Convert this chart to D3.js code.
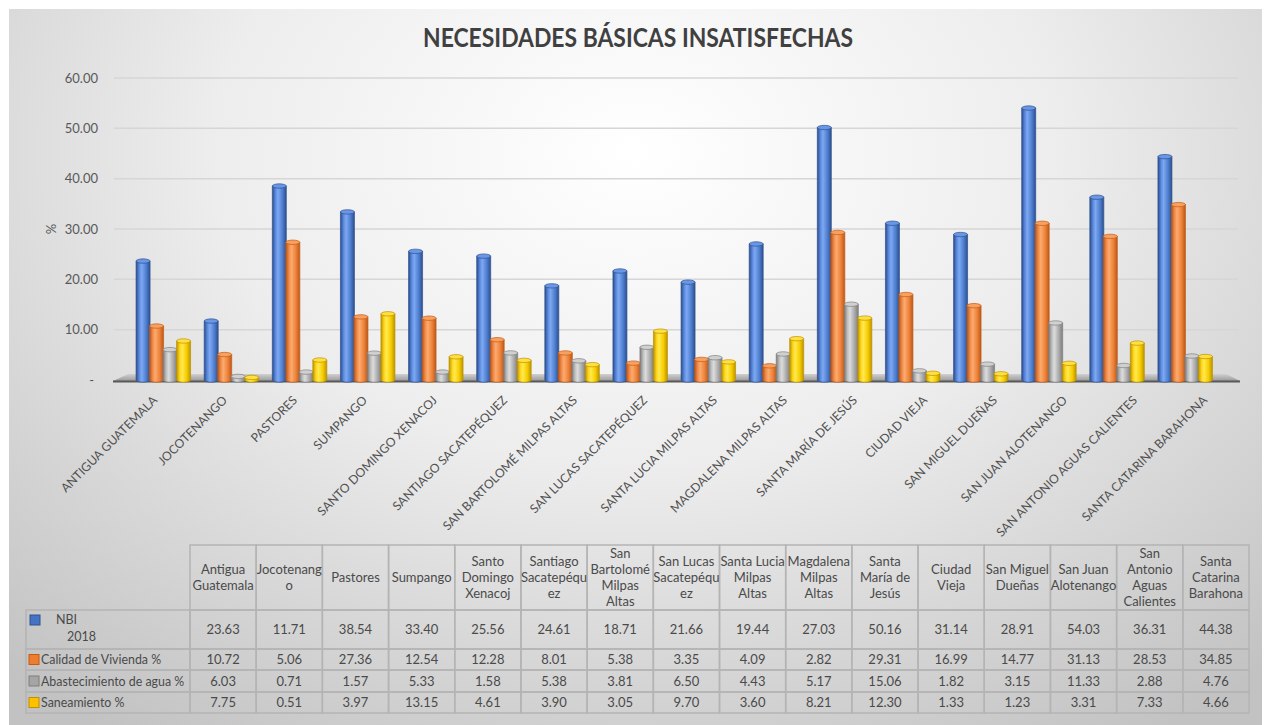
<!DOCTYPE html>
<html lang="es">
<head>
<meta charset="UTF-8">
<title>Necesidades Básicas Insatisfechas</title>
<script src="https://d3js.org/d3.v7.min.js"></script>
<style>
  body { margin: 0; background: #fff; }
  text { font-family: Lato, "Open Sans", sans-serif; }
</style>
</head>
<body>
<script>
// ---- data ----
var municipios = ["Antigua Guatemala", "Jocotenango", "Pastores", "Sumpango", "Santo Domingo Xenacoj",
  "Santiago Sacatepéquez", "San Bartolomé Milpas Altas", "San Lucas Sacatepéquez", "Santa Lucia Milpas Altas",
  "Magdalena Milpas Altas", "Santa María de Jesús", "Ciudad Vieja", "San Miguel Dueñas", "San Juan Alotenango",
  "San Antonio Aguas Calientes", "Santa Catarina Barahona"];

// header text as it wraps in the table
var headerLines = [
  ["Antigua", "Guatemala"], ["Jocotenang", "o"], ["Pastores"], ["Sumpango"],
  ["Santo", "Domingo", "Xenacoj"], ["Santiago", "Sacatepéqu", "ez"], ["San", "Bartolomé", "Milpas", "Altas"],
  ["San Lucas", "Sacatepéqu", "ez"], ["Santa Lucia", "Milpas", "Altas"], ["Magdalena", "Milpas", "Altas"],
  ["Santa", "María de", "Jesús"], ["Ciudad", "Vieja"], ["San Miguel", "Dueñas"], ["San Juan", "Alotenango"],
  ["San", "Antonio", "Aguas", "Calientes"], ["Santa", "Catarina", "Barahona"]
];

var seriesNames = ["NBI 2018", "Calidad de Vivienda %", "Abastecimiento de agua %", "Saneamiento %"];

var nbi = [23.63, 11.71, 38.54, 33.40, 25.56, 24.61, 18.71, 21.66, 19.44, 27.03, 50.16, 31.14, 28.91, 54.03, 36.31, 44.38];
var vivienda = [10.72, 5.06, 27.36, 12.54, 12.28, 8.01, 5.38, 3.35, 4.09, 2.82, 29.31, 16.99, 14.77, 31.13, 28.53, 34.85];
var agua = [6.03, 0.71, 1.57, 5.33, 1.58, 5.38, 3.81, 6.50, 4.43, 5.17, 15.06, 1.82, 3.15, 11.33, 2.88, 4.76];
var saneamiento = [7.75, 0.51, 3.97, 13.15, 4.61, 3.90, 3.05, 9.70, 3.60, 8.21, 12.30, 1.33, 1.23, 3.31, 7.33, 4.66];

var yTicks = [0, 10, 20, 30, 40, 50, 60];

var seriesValues = [nbi, vivienda, agua, saneamiento];

// cylinder shading per series: [edge dark, light, highlight, mid, edge dark], stroke, cap
var shades = [
  { stops: ["#2a4c8c", "#5a88dc", "#7ea8f2", "#4f7fd0", "#2c4f8e"], stroke: "#2f528f", cap: "#6a96e6", key: "#4472c4" },
  { stops: ["#b5541a", "#f08a48", "#fbab70", "#ee8238", "#b9581c"], stroke: "#c55a11", cap: "#f7a060", key: "#ed7d31" },
  { stops: ["#7a7a7a", "#bdbdbd", "#dcdcdc", "#ababab", "#7d7d7d"], stroke: "#7f7f7f", cap: "#d0d0d0", key: "#a5a5a5" },
  { stops: ["#b89400", "#ffd418", "#ffea50", "#f7cc00", "#b99500"], stroke: "#bf9000", cap: "#ffe040", key: "#ffc000" }
];

var W = 1265, H = 725;

var svg = d3.select("body").append("svg")
  .attr("width", W)
  .attr("height", H);

var defs = svg.append("defs");

// panel background
var bg = defs.append("radialGradient")
  .attr("id", "bg")
  .attr("cx", "0.5").attr("cy", "0.2").attr("r", "0.75")
  .attr("gradientTransform", "translate(0.5,0.2) scale(1,1.3) translate(-0.5,-0.2)");
bg.append("stop").attr("offset", "0%").attr("stop-color", "#ffffff");
bg.append("stop").attr("offset", "45%").attr("stop-color", "#ededed");
bg.append("stop").attr("offset", "100%").attr("stop-color", "#c2c2c2");

svg.append("rect")
  .attr("x", 9).attr("y", 9)
  .attr("width", W - 12).attr("height", H - 9)
  .attr("fill", "url(#bg)");

shades.forEach(function (s, i) {
  var g = defs.append("linearGradient").attr("id", "cyl" + i)
    .attr("x1", "0").attr("x2", "1").attr("y1", "0").attr("y2", "0");
  var offs = [0, 0.22, 0.4, 0.72, 1];
  s.stops.forEach(function (c, j) {
    g.append("stop").attr("offset", offs[j]).attr("stop-color", c);
  });
});

var floorGrad = defs.append("linearGradient").attr("id", "floor")
  .attr("x1", "0").attr("x2", "0").attr("y1", "0").attr("y2", "1");
floorGrad.append("stop").attr("offset", "0").attr("stop-color", "#d0d0d0");
floorGrad.append("stop").attr("offset", "1").attr("stop-color", "#9a9a9a");

// Title
svg.append("text")
  .attr("x", 638)
  .attr("y", 47)
  .attr("text-anchor", "middle")
  .attr("textLength", 430)
  .attr("lengthAdjust", "spacingAndGlyphs")
  .style("font-size", "26px")
  .style("font-weight", "bold")
  .style("fill", "#404040")
  .text("NECESIDADES BÁSICAS INSATISFECHAS");

// scales
var y = d3.scaleLinear().domain([0, 60]).range([380, 78]);
var x = d3.scaleBand().domain(municipios).range([129, 1219]);
// labels sit on the front edge of the 3D floor, slightly wider than the bars
var xLabel = d3.scaleBand().domain(municipios).range([123, 1243]);
var tableX = d3.scaleBand().domain(municipios).range([190, 1249]);

// gridlines
svg.append("g")
  .selectAll("line")
  .data(yTicks.filter(function (d) { return d > 0; }))
  .enter().append("line")
  .attr("x1", 114).attr("x2", 1238)
  .attr("y1", function (d) { return y(d); })
  .attr("y2", function (d) { return y(d); })
  .attr("stroke", "#d6d6d6")
  .attr("stroke-width", 1.5);

// y axis labels
var yAxis = svg.append("g")
  .attr("transform", "translate(102,0)")
  .call(d3.axisLeft(y).tickValues(yTicks).tickSize(0).tickPadding(4)
    .tickFormat(function (d) { return d === 0 ? "-" : d3.format(".2f")(d); }));
yAxis.select(".domain").remove();
yAxis.selectAll("text")
  .style("font-size", "13px")
  .style("fill", "#595959")
  .attr("font-family", null);
yAxis.selectAll(".tick").filter(function (d) { return d === 0; }).select("text").attr("x", -8);

svg.append("text")
  .attr("transform", "translate(56,229) rotate(-90)")
  .attr("text-anchor", "middle")
  .style("font-size", "13px")
  .style("fill", "#595959")
  .text("%");

// floor
svg.append("path")
  .attr("d", "M113,381 L1240,381 L1226,374 L128,374 Z")
  .attr("fill", "url(#floor)");
svg.append("line")
  .attr("x1", 113).attr("x2", 1240)
  .attr("y1", 381.5).attr("y2", 381.5)
  .attr("stroke", "#595959")
  .attr("stroke-width", 2);

// bars (cylinders)
var barW = 14, barStep = 13.5, ry = 2.2;
var groups = svg.append("g").selectAll("g")
  .data(municipios)
  .enter().append("g");

groups.each(function (m, ci) {
  var g = d3.select(this);
  var cx = x(m) + x.bandwidth() / 2;
  seriesValues.forEach(function (vals, si) {
    var v = vals[ci];
    var x0 = cx - 27 + si * barStep;
    var top = y(v), bottom = y(0);
    var s = shades[si];
    g.append("path")
      .attr("d", "M" + x0 + "," + top + " L" + x0 + "," + bottom +
        " A" + (barW / 2) + "," + ry + " 0 0 0 " + (x0 + barW) + "," + bottom +
        " L" + (x0 + barW) + "," + top + " Z")
      .attr("fill", "url(#cyl" + si + ")")
      .attr("stroke", s.stroke)
      .attr("stroke-width", 0.7);
    g.append("ellipse")
      .attr("cx", x0 + barW / 2)
      .attr("cy", top)
      .attr("rx", barW / 2)
      .attr("ry", ry)
      .attr("fill", s.cap)
      .attr("stroke", s.stroke)
      .attr("stroke-width", 0.7);
  });
});

// category labels, rotated
svg.append("g").selectAll("text")
  .data(municipios)
  .enter().append("text")
  .attr("transform", function (d) {
    return "translate(" + (xLabel(d) + xLabel.bandwidth() / 2) + ",401) rotate(-45)";
  })
  .attr("text-anchor", "end")
  .style("font-size", "12.2px")
  .style("fill", "#505050")
  .text(function (d) { return d.toUpperCase(); });

// ---- data table ----
var table = svg.append("g");
var borderCol = "#b4b4b4";
var headTop = 545, headBot = 610;
var rowBounds = [610, 649, 670, 692, 713];
var left = 26;

// header cells
table.selectAll("rect.head")
  .data(municipios)
  .enter().append("rect")
  .attr("class", "head")
  .attr("x", function (d) { return tableX(d); })
  .attr("y", headTop)
  .attr("width", tableX.bandwidth())
  .attr("height", headBot - headTop)
  .attr("fill", "none")
  .attr("stroke", borderCol)
  .attr("stroke-width", 1.5);

table.selectAll("text.head")
  .data(municipios)
  .enter().append("text")
  .attr("class", "head")
  .attr("x", function (d) { return tableX(d) + tableX.bandwidth() / 2; })
  .attr("y", function (d, i) {
    var n = headerLines[i].length;
    return (headTop + headBot) / 2 - (n - 1) * 8 + 4.5;
  })
  .attr("text-anchor", "middle")
  .style("font-size", "13px")
  .style("fill", "#4a4a4a")
  .each(function (d, i) {
    var t = d3.select(this);
    headerLines[i].forEach(function (line, k) {
      t.append("tspan")
        .attr("x", tableX(d) + tableX.bandwidth() / 2)
        .attr("dy", k === 0 ? 0 : 16)
        .text(line);
    });
  });

// row grid
seriesNames.forEach(function (name, si) {
  var r0 = rowBounds[si], r1 = rowBounds[si + 1];
  table.append("rect")
    .attr("x", left).attr("y", r0)
    .attr("width", 190 - left).attr("height", r1 - r0)
    .attr("fill", "none").attr("stroke", borderCol).attr("stroke-width", 1.5);
  municipios.forEach(function (m, ci) {
    table.append("rect")
      .attr("x", tableX(m)).attr("y", r0)
      .attr("width", tableX.bandwidth()).attr("height", r1 - r0)
      .attr("fill", "none").attr("stroke", borderCol).attr("stroke-width", 1.5);
    table.append("text")
      .attr("x", tableX(m) + tableX.bandwidth() / 2)
      .attr("y", (r0 + r1) / 2 + 4.5)
      .attr("text-anchor", "middle")
      .style("font-size", "13px")
      .style("fill", "#4a4a4a")
      .text(d3.format(".2f")(seriesValues[si][ci]));
  });

  // legend key
  var keyY = si === 0 ? 615 : (r0 + r1) / 2 - 5;
  var keyX = si === 0 ? 30 : 29;
  table.append("rect")
    .attr("x", keyX).attr("y", keyY)
    .attr("width", 10).attr("height", 10)
    .attr("fill", shades[si].key)
    .attr("stroke", shades[si].stroke)
    .attr("stroke-width", 1);

  if (si === 0) {
    table.append("text").attr("x", 56).attr("y", 624)
      .style("font-size", "12.5px").style("fill", "#4a4a4a").text("NBI");
    table.append("text").attr("x", 67).attr("y", 641)
      .style("font-size", "12.5px").style("fill", "#4a4a4a").text("2018");
  } else {
    table.append("text")
      .attr("x", 41)
      .attr("y", (r0 + r1) / 2 + 4.5)
      .style("font-size", "12.4px")
      .style("fill", "#4a4a4a")
      .text(name);
  }
});
</script>
</body>
</html>
